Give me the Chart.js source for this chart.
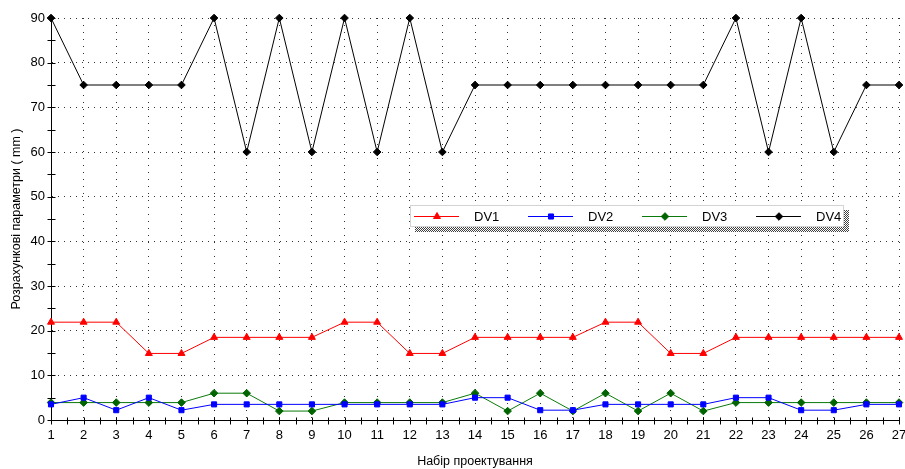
<!DOCTYPE html>
<html>
<head>
<meta charset="utf-8">
<script src="https://cdn.jsdelivr.net/npm/chart.js@4/dist/chart.umd.min.js"></script>
<style>
html,body{margin:0;padding:0;background:#fff;}
#wrap{width:905px;height:469px;position:relative;}
</style>
</head>
<body>
<div id="wrap"><canvas id="c" width="905" height="469"></canvas></div>
<script>
// ---- data ----
const categories = ['1','2','3','4','5','6','7','8','9','10','11','12','13','14','15','16','17','18','19','20','21','22','23','24','25','26','27'];
const dv1 = [21.9,21.9,21.9,14.9,14.9,18.5,18.5,18.5,18.5,21.9,21.9,14.9,14.9,18.5,18.5,18.5,18.5,21.9,21.9,14.9,14.9,18.5,18.5,18.5,18.5,18.5,18.5];
const dv2 = [3.5,5,2.2,5,2.2,3.5,3.5,3.5,3.5,3.5,3.5,3.5,3.5,5,5,2.2,2.2,3.5,3.5,3.5,3.5,5,5,2.2,2.2,3.5,3.5];
const dv3 = [3.9,3.9,3.9,3.9,3.9,6,6,2,2,3.9,3.9,3.9,3.9,6,2,6,2,6,2,6,2,3.9,3.9,3.9,3.9,3.9,3.9];
const dv4 = [90,75,75,75,75,90,60,90,60,90,60,90,60,75,75,75,75,75,75,75,75,90,60,90,60,75,75];
const seriesNames = ['DV1','DV2','DV3','DV4'];
const yMin = 0, yMax = 90, yStep = 10;
const xTitle = 'Набір проектування';
const yTitle = 'Розрахункові параметри ( mm )';

const FONT = 'Liberation Sans';

// axis-crossing minor/major tick marks
const tickPlugin = {
  id: 'crossTicks',
  afterDraw(chart) {
    const ctx = chart.ctx, xs = chart.scales.x, ys = chart.scales.y;
    const a = chart.chartArea;
    ctx.save();
    ctx.strokeStyle = '#000';
    ctx.lineWidth = 1;
    ctx.beginPath();
    const x0 = Math.round(a.left) + 0.5;
    for (let v = yMin; v <= yMax; v += yStep / 2) {
      const y = Math.round(ys.getPixelForValue(v)) + 0.5;
      ctx.moveTo(x0 - 4, y); ctx.lineTo(x0 + 4, y);
    }
    const y0 = Math.round(a.bottom) + 0.5;
    for (let i = 0; i < categories.length; i++) {
      const px = Math.round(xs.getPixelForValue(i)) + 0.5;
      ctx.moveTo(px, y0 - 3); ctx.lineTo(px, y0 + 4);
      if (i < categories.length - 1) {
        const mx = Math.round((xs.getPixelForValue(i) + xs.getPixelForValue(i + 1)) / 2) + 0.5;
        ctx.moveTo(mx, y0 - 3); ctx.lineTo(mx, y0 + 4);
      }
    }
    ctx.stroke();
    ctx.restore();
  }
};

// boxed legend with hatched shadow, drawn inside the plot
const legendPlugin = {
  id: 'boxLegend',
  afterDatasetsDraw(chart) {
    const ctx = chart.ctx;
    const bx = 410, by = 205, bw = 434, bh = 22, sh = 5;
    ctx.save();
    const pc = document.createElement('canvas');
    pc.width = 2; pc.height = 2;
    const pctx = pc.getContext('2d');
    pctx.fillStyle = '#fff'; pctx.fillRect(0,0,2,2);
    pctx.fillStyle = '#404040'; pctx.fillRect(0,0,1,1); pctx.fillRect(1,1,1,1);
    ctx.fillStyle = ctx.createPattern(pc, 'repeat');
    ctx.fillRect(bx + sh, by + bh, bw, sh);
    ctx.fillRect(bx + bw, by + sh, sh, bh);
    ctx.fillStyle = '#fff';
    ctx.fillRect(bx, by, bw, bh);
    ctx.strokeStyle = '#d4d4d4';
    ctx.lineWidth = 1;
    ctx.strokeRect(bx + 0.5, by + 0.5, bw - 1, bh - 1);
    const ly = by + 11.5;
    chart.data.datasets.forEach((ds, i) => {
      const lx = bx + 4 + i * 114;
      ctx.strokeStyle = ds.borderColor;
      ctx.lineWidth = 1;
      ctx.beginPath();
      ctx.moveTo(lx, ly); ctx.lineTo(lx + 45, ly);
      ctx.stroke();
      ctx.fillStyle = ds.pointBackgroundColor;
      ctx.strokeStyle = ds.pointBorderColor;
      Chart.helpers.drawPoint(ctx, {pointStyle: ds.pointStyle, radius: ds.pointRadius, rotation: 0, borderWidth: 1}, lx + 23, ly);
      ctx.fillStyle = '#000';
      ctx.font = '13px "' + FONT + '"';
      ctx.textBaseline = 'middle';
      ctx.textAlign = 'left';
      ctx.fillText(ds.label, lx + 60, ly + 0.5);
    });
    ctx.restore();
  }
};

const colors = ['#ff0000', '#0000ff', '#0a7a0a', '#000000'];
const pointColors = ['#ff0000', '#0000ff', '#006400', '#000000'];
const styles = ['triangle', 'rect', 'rectRot', 'rectRot'];
const radii = [4, 3.6, 3.8, 3.8];
const values = [dv1, dv2, dv3, dv4];

new Chart(document.getElementById('c'), {
  type: 'line',
  data: {
    labels: categories,
    datasets: seriesNames.map((n, i) => ({
      label: n,
      data: values[i],
      borderColor: colors[i],
      backgroundColor: colors[i],
      pointBackgroundColor: pointColors[i],
      pointBorderColor: pointColors[i],
      pointStyle: styles[i],
      pointRadius: radii[i],
      pointBorderWidth: 1,
      borderWidth: 1,
      tension: 0,
      fill: false,
      clip: false
    }))
  },
  options: {
    responsive: false,
    animation: false,
    devicePixelRatio: 1,
    layout: { padding: { top: 18, right: 6, left: 0, bottom: 0 } },
    plugins: { legend: { display: false }, tooltip: { enabled: false } },
    scales: {
      x: {
        type: 'category',
        offset: false,
        grid: { color: '#333', lineWidth: 1, drawTicks: false },
        border: { color: '#000', width: 1, dash: [1, 6] },
        ticks: { color: '#000', font: { family: FONT, size: 13 }, padding: 8, maxRotation: 0, autoSkip: false },
        title: { display: true, text: xTitle, color: '#000', font: { family: FONT, size: 12.5 }, padding: { top: 2, bottom: 0 } },
        afterFit(s) { s.height = 49; s.paddingLeft = 0; s.paddingRight = 0; }
      },
      y: {
        min: yMin, max: yMax,
        grid: { color: '#333', lineWidth: 1, drawTicks: false },
        border: { color: '#000', width: 1, dash: [1, 5] },
        ticks: { stepSize: yStep, color: '#000', font: { family: FONT, size: 13 }, padding: 6 },
        title: { display: true, text: yTitle, color: '#000', font: { family: FONT, size: 12.5 }, padding: { top: 9, bottom: 0 } },
        afterFit(s) { s.width = 51; s.paddingTop = 0; s.paddingBottom = 0; }
      }
    }
  },
  plugins: [tickPlugin, legendPlugin]
});
</script>
</body>
</html>
